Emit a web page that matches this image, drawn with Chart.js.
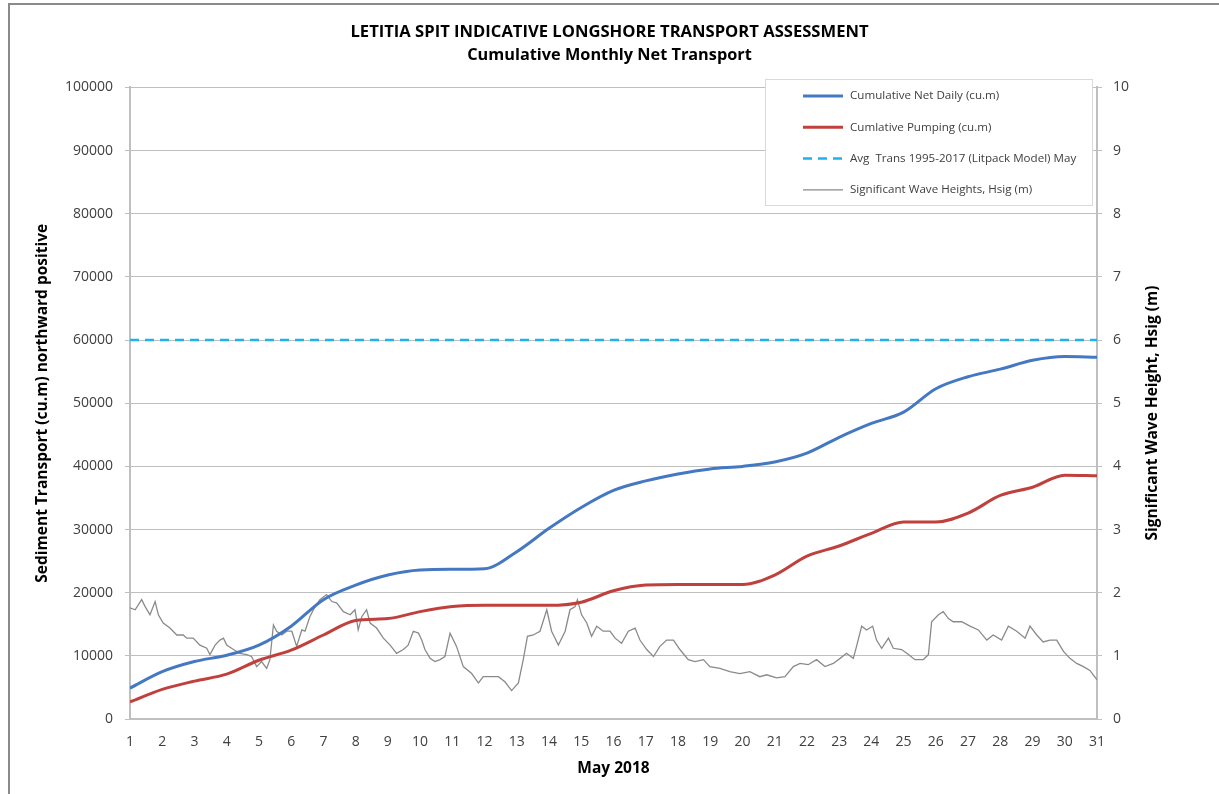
<!DOCTYPE html>
<html lang="en">

<head>
  <meta charset="UTF-8">
  <title>Letitia Spit Longshore Transport</title>
  <script src="https://cdn.jsdelivr.net/npm/chart.js"></script>
  <style>
    html, body { margin: 0; padding: 0; background: #fff; }
    .frame { position: absolute; left: 8px; top: 3px; width: 1211px; height: 791px;
      border-left: 2px solid #8a8a8a; border-top: 2px solid #8a8a8a; box-sizing: border-box; }
    .wrap { position: absolute; left: 0; top: 0; width: 1219px; height: 794px; }
  </style>
</head>

<body>
  <div class="frame"></div>
  <div class="wrap"><canvas id="transportChart" width="1219" height="794"></canvas></div>

  <script>
    // days of May 2018
    const days = [1, 2, 3, 4, 5, 6, 7, 8, 9, 10, 11, 12, 13, 14, 15, 16, 17, 18, 19, 20,
      21, 22, 23, 24, 25, 26, 27, 28, 29, 30, 31];

    // cumulative volumes (cu.m), one value per day
    const netDaily = [4900, 7500, 9100, 10100, 11700, 14700, 18900, 21200, 22800, 23600,
      23700, 23800, 26500, 30200, 33500, 36200, 37700, 38800, 39600, 40000,
      40700, 42100, 44600, 46800, 48600, 52300, 54200, 55400, 56800, 57400, 57300];
    const pumping = [2700, 4700, 6000, 7100, 9300, 10900, 13300, 15600, 15900, 17000,
      17800, 18000, 18000, 18000, 18500, 20300, 21200, 21300, 21300, 21300,
      22800, 25800, 27400, 29400, 31200, 31200, 32600, 35400, 36700, 38600, 38500];
    const avgTrans = 60000;

    // significant wave height (m)
    const waveDays = [1.00, 1.16, 1.36, 1.47, 1.62, 1.78, 1.88, 2.03, 2.24, 2.45, 2.65, 2.76, 2.96,
      3.17, 3.38, 3.48, 3.64, 3.79, 3.90, 4.00, 4.21, 4.41, 4.62, 4.77, 4.93, 5.08, 5.24, 5.34,
      5.45, 5.55, 5.71, 5.86, 6.02, 6.17, 6.33, 6.43, 6.58, 6.74, 6.89, 7.10, 7.26, 7.41, 7.62,
      7.83, 7.98, 8.08, 8.19, 8.34, 8.45, 8.65, 8.86, 9.07, 9.27, 9.48, 9.63, 9.79, 9.95, 10.05,
      10.15, 10.31, 10.46, 10.62, 10.77, 10.93,
      11.13, 11.34, 11.60, 11.81, 11.96, 12.17, 12.43, 12.63, 12.84, 13.05, 13.20, 13.33, 13.51,
      13.72, 13.93, 14.08, 14.29, 14.50, 14.65, 14.81, 14.88, 15.01, 15.17, 15.32, 15.48, 15.68,
      15.89, 16.05, 16.25, 16.46, 16.67, 16.82, 17.03, 17.24, 17.44, 17.65, 17.86, 18.06, 18.32,
      18.53, 18.79, 18.99, 19.30, 19.61, 19.92, 20.23, 20.54, 20.75,
      21.06, 21.32, 21.58, 21.79, 22.04, 22.30, 22.56, 22.82, 23.03, 23.23, 23.44, 23.54, 23.70,
      23.85, 24.04, 24.16, 24.32, 24.53, 24.68, 24.94, 25.15, 25.35, 25.61, 25.77, 25.87, 26.08,
      26.23, 26.39, 26.54, 26.80, 27.06, 27.32, 27.58, 27.78, 28.04, 28.25, 28.51, 28.77, 28.92,
      29.13, 29.33, 29.54, 29.75, 29.96, 30.16, 30.37, 30.58, 30.78, 31.00];
    const waveHsig = [1.76, 1.73, 1.89, 1.78, 1.65, 1.86, 1.65, 1.52, 1.44, 1.33, 1.33, 1.28, 1.28,
      1.17, 1.12, 1.02, 1.17, 1.25, 1.28, 1.17, 1.10, 1.04, 1.02, 0.99, 0.83, 0.91, 0.80, 0.94,
      1.49, 1.39, 1.33, 1.39, 1.39, 1.15, 1.41, 1.39, 1.62, 1.78, 1.89, 1.97, 1.86, 1.84, 1.70,
      1.65, 1.73, 1.41, 1.62, 1.73, 1.52, 1.44, 1.28, 1.17, 1.04, 1.10, 1.17, 1.39, 1.36, 1.25,
      1.10, 0.96, 0.91, 0.94, 0.99, 1.36,
      1.15, 0.83, 0.72, 0.57, 0.67, 0.67, 0.67, 0.59, 0.45, 0.57, 0.94, 1.31, 1.33,
      1.39, 1.73, 1.39, 1.17, 1.39, 1.73, 1.78, 1.89, 1.65, 1.52, 1.31, 1.47, 1.39,
      1.39, 1.28, 1.20, 1.39, 1.44, 1.25, 1.10, 0.99, 1.15, 1.25, 1.25, 1.10, 0.94,
      0.91, 0.94, 0.83, 0.80, 0.75, 0.72, 0.75, 0.67, 0.70,
      0.65, 0.67, 0.83, 0.88, 0.86, 0.94, 0.83, 0.88, 0.96, 1.04, 0.96, 1.15, 1.47,
      1.41, 1.47, 1.25, 1.12, 1.28, 1.12, 1.10, 1.02, 0.94, 0.94, 1.02, 1.54, 1.65,
      1.70, 1.59, 1.54, 1.54, 1.47, 1.41, 1.25, 1.33, 1.25, 1.47, 1.39, 1.28, 1.47,
      1.33, 1.22, 1.25, 1.25, 1.07, 0.96, 0.88, 0.83, 0.77, 0.62];

    const labelFont = "'Open Sans', sans-serif";
    const textGrey = '#404040';
    const rightTitle = 'Significant Wave Height, Hsig (m)';

    // legend drawn as a boxed panel inside the plot, like the Excel original
    const boxLegend = {
      id: 'boxLegend',
      afterDraw(chart) {
        const ctx = chart.ctx;
        const x0 = 765, y0 = 79, w = 327, h = 126;
        ctx.save();
        ctx.fillStyle = '#fff';
        ctx.fillRect(x0, y0, w, h);
        ctx.strokeStyle = '#d9d9d9';
        ctx.lineWidth = 1;
        ctx.strokeRect(x0 + 0.5, y0 + 0.5, w, h);
        ctx.font = "11.6px " + labelFont;
        ctx.textBaseline = 'middle';
        chart.data.datasets.forEach((ds, i) => {
          const y = y0 + 17 + i * 31.3;
          ctx.beginPath();
          ctx.strokeStyle = ds.borderColor;
          ctx.lineWidth = ds.borderWidth;
          ctx.setLineDash(ds.borderDash || []);
          ctx.moveTo(803, y);
          ctx.lineTo(843, y);
          ctx.stroke();
          ctx.setLineDash([]);
          ctx.fillStyle = textGrey;
          ctx.fillText(ds.label, 850, y);
        });
        ctx.restore();
      }
    };

    // right axis title reads bottom-to-top in the original
    const rightAxisTitle = {
      id: 'rightAxisTitle',
      afterDraw(chart) {
        const ctx = chart.ctx;
        ctx.save();
        ctx.translate(1153, 413);
        ctx.rotate(-Math.PI / 2);
        ctx.font = "bold 15.5px " + labelFont;
        ctx.fillStyle = '#000';
        ctx.textAlign = 'center';
        ctx.textBaseline = 'middle';
        ctx.fillText(rightTitle, 0, 0);
        ctx.restore();
      }
    };

    const ctx = document.getElementById('transportChart').getContext('2d');

    const transportChart = new Chart(ctx, {
      type: 'line',
      data: {
        datasets: [
          {
            label: 'Cumulative Net Daily (cu.m)',
            data: days.map((d, i) => ({ x: d, y: netDaily[i] })),
            borderColor: '#4478c3', borderWidth: 3, pointRadius: 0,
            cubicInterpolationMode: 'monotone', yAxisID: 'y'
          },
          {
            label: 'Cumlative Pumping (cu.m)',
            data: days.map((d, i) => ({ x: d, y: pumping[i] })),
            borderColor: '#c0403d', borderWidth: 3, pointRadius: 0,
            cubicInterpolationMode: 'monotone', yAxisID: 'y'
          },
          {
            label: 'Avg  Trans 1995-2017 (Litpack Model) May',
            data: [{ x: days[0], y: avgTrans }, { x: days[days.length - 1], y: avgTrans }],
            borderColor: '#1fb0ee', borderWidth: 2.5, borderDash: [9, 6], pointRadius: 0,
            yAxisID: 'y'
          },
          {
            label: 'Significant Wave Heights, Hsig (m)',
            data: waveDays.map((d, i) => ({ x: d, y: waveHsig[i] })),
            borderColor: '#8a8a8a', borderWidth: 1.3, pointRadius: 0,
            yAxisID: 'y1'
          }
        ]
      },
      options: {
        responsive: false,
        animation: false,
        layout: { padding: { top: 4, left: 0, right: 0, bottom: 0 } },
        plugins: {
          legend: { display: false },
          tooltip: { enabled: false },
          title: {
            display: true,
            text: 'LETITIA SPIT INDICATIVE LONGSHORE TRANSPORT ASSESSMENT',
            color: '#000',
            font: { family: labelFont, size: 16.6, weight: 'bold' },
            padding: { top: 18, bottom: 4 }
          },
          subtitle: {
            display: true,
            text: 'Cumulative Monthly Net Transport',
            color: '#000',
            font: { family: labelFont, size: 16.3, weight: 'bold' },
            padding: { top: 0, bottom: 22 }
          }
        },
        scales: {
          x: {
            type: 'linear',
            min: 1, max: 31,
            grid: { display: false, drawTicks: false },
            border: { display: true, color: '#bfbfbf', width: 2 },
            ticks: {
              stepSize: 1, padding: 15, color: textGrey,
              font: { family: labelFont, size: 14 }
            },
            title: {
              display: true, text: 'May 2018', color: '#000',
              font: { family: labelFont, size: 15.5, weight: 'bold' },
              padding: { top: 0, bottom: 16 }
            },
            afterFit(scale) { scale.height = 75; }
          },
          y: {
            position: 'left',
            min: 0, max: 100000,
            grid: { color: '#bfbfbf', lineWidth: 1, tickLength: 5 },
            border: { display: true, color: '#bfbfbf', width: 2 },
            ticks: {
              stepSize: 10000, padding: 12, color: textGrey,
              font: { family: labelFont, size: 14 },
              callback: (v) => String(v)
            },
            title: {
              display: true, text: 'Sediment Transport (cu.m) northward positive', color: '#000',
              font: { family: labelFont, size: 15.5, weight: 'bold' },
              padding: { top: 33, bottom: 0 }
            },
            afterFit(scale) { scale.width = 130; }
          },
          y1: {
            position: 'right',
            min: 0, max: 10,
            grid: { drawOnChartArea: false, color: '#bfbfbf', tickLength: 5 },
            border: { display: true, color: '#bfbfbf', width: 2 },
            ticks: {
              stepSize: 1, padding: 11, color: textGrey,
              font: { family: labelFont, size: 14 },
              callback: (v) => String(v)
            },
            title: { display: false },
            afterFit(scale) { scale.width = 122; }
          }
        }
      },
      plugins: [boxLegend, rightAxisTitle]
    });
  </script>
</body>

</html>
